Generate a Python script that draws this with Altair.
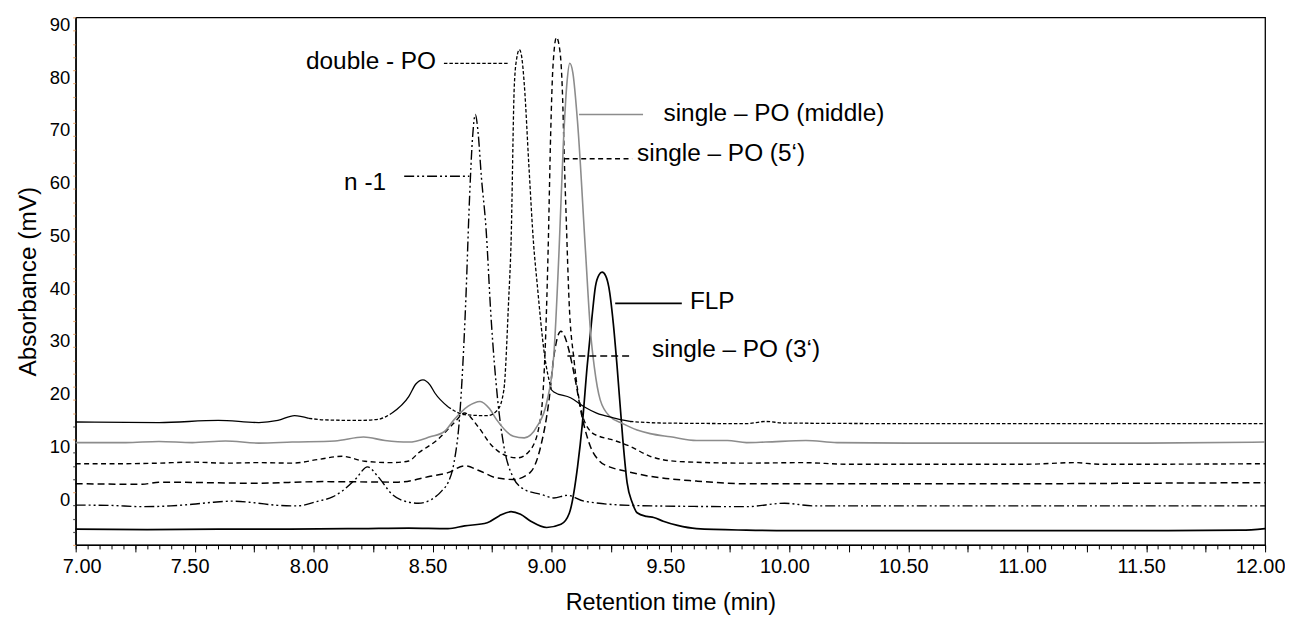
import altair as alt
import pandas as pd

# ---------------- data ----------------
flp_x = [7.00, 7.30, 7.60, 7.90, 8.20, 8.40, 8.565, 8.635, 8.73, 8.78, 8.83, 8.87, 8.913, 8.98, 9.04,
         9.075, 9.11, 9.13, 9.15, 9.17, 9.185, 9.20, 9.213, 9.228, 9.241, 9.26, 9.276, 9.30, 9.318,
         9.34, 9.36, 9.40, 9.43, 9.47, 9.53, 9.61, 9.82, 10.00, 10.50, 11.00, 11.50, 11.90, 12.00]
flp_y = [-7.0, -7.1, -7.0, -7.0, -6.9, -6.8, -6.9, -6.4, -5.8, -4.5, -3.7, -4.2, -5.5, -6.7, -6.1,
         -4.0, 4.9, 13.0, 23.8, 33.0, 39.0, 41.2, 41.7, 41.0, 38.9, 32.0, 23.8, 10.0, 1.8,
         -2.0, -3.9, -4.6, -4.8, -5.5, -6.3, -6.9, -7.2, -7.3, -7.3, -7.3, -7.3, -7.2, -6.9]

n1_x = [7.00, 7.14, 7.28, 7.40, 7.49, 7.58, 7.66, 7.75, 7.85, 7.93, 8.02, 8.08, 8.12, 8.175, 8.227,
        8.27, 8.33, 8.40, 8.44, 8.495, 8.54, 8.565, 8.59, 8.614, 8.64, 8.655, 8.668, 8.68, 8.692,
        8.705, 8.725, 8.746, 8.774, 8.80, 8.837, 8.886, 8.955, 9.01, 9.067, 9.137, 9.33, 9.60, 9.82,
        9.98, 10.10, 10.50, 11.00, 11.50, 12.00]
n1_y = [-2.45, -2.5, -2.75, -2.6, -2.3, -1.9, -1.7, -2.0, -2.5, -2.6, -1.7, -0.9, 0.2, 2.4, 4.8,
        3.0, -0.4, -1.9, -2.1, -1.4, 0.3, 1.8, 5.5, 14.3, 36.4, 55.0, 67.0, 71.6, 68.0,
        60.0, 50.0, 33.2, 17.5, 8.7, 3.0, 0.5, -0.4, -1.1, -0.6, -1.7, -2.5, -2.7, -2.75,
        -2.1, -2.6, -2.6, -2.6, -2.6, -2.6]

p3_x = [7.00, 7.28, 7.35, 7.75, 8.04, 8.356, 8.49, 8.565, 8.635, 8.70, 8.77, 8.84, 8.91, 8.955,
        8.99, 9.01, 9.025, 9.04, 9.053, 9.067, 9.095, 9.13, 9.165, 9.20, 9.25, 9.30, 9.415, 9.61,
        9.82, 10.50, 11.00, 11.50, 12.00]
p3_y = [1.6, 1.5, 1.9, 1.7, 2.0, 1.9, 3.0, 3.7, 5.0, 4.0, 2.7, 2.4, 3.7, 8.7,
        17.5, 25.7, 29.3, 30.5, 29.8, 28.0, 22.5, 14.0, 8.5, 6.0, 4.7, 4.1, 3.0, 2.1,
        1.6, 1.6, 1.6, 1.7, 1.8]

p5_x = [7.00, 7.21, 7.35, 7.49, 7.63, 7.77, 7.91, 8.02, 8.12, 8.216, 8.33, 8.40, 8.44, 8.52, 8.59,
        8.635, 8.69, 8.746, 8.816, 8.858, 8.913, 8.955, 8.976, 8.986, 8.997, 9.006, 9.021, 9.036,
        9.046, 9.054, 9.062, 9.074, 9.095, 9.123, 9.165, 9.20, 9.25, 9.33, 9.415, 9.54, 9.82,
        10.05, 10.25, 10.50, 11.00, 11.20, 11.30, 11.50, 12.00]
p5_y = [5.4, 5.4, 5.5, 5.7, 5.5, 5.6, 5.5, 6.2, 6.8, 5.85, 5.6, 5.9, 7.4, 9.9, 13.1,
        15.0, 12.5, 9.0, 6.8, 6.5, 8.1, 14.3, 30.1, 45.8, 68.4, 80.4, 86.2, 83.5,
        76.0, 63.2, 52.0, 36.3, 25.0, 16.0, 11.5, 10.6, 10.0, 8.7, 6.8, 5.8, 5.5,
        5.6, 5.3, 5.3, 5.3, 5.6, 5.3, 5.3, 5.4]

dpo_x = [7.00, 7.35, 7.60, 7.77, 7.85, 7.92, 7.98, 8.05, 8.19, 8.27, 8.33, 8.40, 8.43, 8.46, 8.49,
         8.51, 8.565, 8.635, 8.73, 8.774, 8.80, 8.82, 8.83, 8.844, 8.855, 8.865, 8.875, 8.886,
         8.905, 8.925, 8.94, 8.97, 9.00, 9.01, 9.08, 9.137, 9.19, 9.26, 9.33, 9.47, 9.82, 9.90,
         9.98, 10.50, 11.00, 11.50, 12.00]
dpo_y = [13.3, 13.2, 13.6, 13.2, 13.6, 14.5, 14.0, 13.7, 13.6, 13.8, 15.0, 18.1, 20.5, 21.3, 20.3,
         18.8, 16.2, 14.7, 14.5, 15.6, 19.4, 36.3, 47.0, 77.2, 82.5, 83.9, 82.5, 77.2,
         62.0, 47.0, 39.5, 26.3, 19.4, 19.0, 17.9, 16.2, 15.0, 14.1, 13.4, 13.1, 13.0, 13.4,
         13.1, 13.0, 13.0, 13.0, 13.0]
# stretches of the top trace that the reference prints as a solid line
dpo_solid_ranges = [(7.00, 7.98), (8.33, 8.565), (9.00, 9.33)]

mid_x = [7.00, 7.21, 7.35, 7.49, 7.63, 7.77, 7.91, 8.09, 8.21, 8.30, 8.40, 8.49, 8.55, 8.59, 8.65,
         8.70, 8.74, 8.77, 8.84, 8.886, 8.94, 8.98, 9.01, 9.032, 9.05, 9.065, 9.077, 9.09, 9.11,
         9.143, 9.165, 9.18, 9.205, 9.247, 9.30, 9.36, 9.415, 9.50, 9.61, 9.74, 9.82, 9.90, 10.07,
         10.20, 10.50, 11.00, 11.50, 12.00]
mid_y = [9.4, 9.4, 9.6, 9.4, 9.7, 9.3, 9.5, 9.7, 10.45, 9.8, 9.5, 10.5, 11.5, 13.7, 16.3,
         17.2, 15.8, 13.7, 10.6, 10.3, 12.5, 17.0, 26.0, 45.8, 66.0, 77.5, 81.3, 79.5, 70.0,
         45.8, 30.0, 23.8, 17.5, 14.3, 13.0, 11.8, 11.1, 10.5, 9.8, 9.8, 9.4, 9.5, 9.8,
         9.4, 9.3, 9.3, 9.3, 9.5]

# annotation labels and their leader lines
ann_text = ["double - PO", "single \u2013 PO (middle)", "single \u2013 PO (5\u2018)", "n -1", "FLP",
            "single \u2013 PO (3\u2018)"]
ann_x = [8.515, 9.471, 9.36, 8.305, 9.582, 9.423]
ann_y = [81.6, 71.6, 64.1, 58.6, 36.0, 26.9]
ann_align = ["right", "left", "left", "right", "left", "left"]
lead_x1 = [8.548, 9.116, 9.054, 8.381, 9.268, 9.067]
lead_x2 = [8.820, 9.385, 9.339, 8.655, 9.548, 9.343]
lead_y = [81.3, 71.6, 63.2, 59.9, 35.8, 25.8]

# tick values / labels
x_major_ticks = [round(7 + 0.25 * i, 2) for i in range(21)]
x_minor_ticks = [round(7 + 0.05 * i, 2) for i in range(101)]
y_ticks = [-10 + 2.5 * i for i in range(41)]

FONT = "Liberation Sans"
XS = alt.Scale(domain=[7, 12], nice=False, zero=False)
YS = alt.Scale(domain=[-10, 90], nice=False, zero=False)

x_major_axis = alt.Axis(
    values=x_major_ticks, orient="bottom", grid=False,
    labelExpr="abs(datum.value*2 - round(datum.value*2)) < 0.001 ? format(datum.value, '.2f') : ''",
    labelOverlap=False, labelFlush=False, labelFont=FONT, labelFontSize=20, labelColor="black",
    labelOffset={"condition": {"test": "datum.value < 7.01", "value": 6}, "value": -5},
    labelPadding=5, tickSize=7, tickColor="black", tickWidth=1,
    domainColor="black", domainWidth=1.3,
    title="Retention time (min)", titleFont=FONT, titleFontSize=23.5, titleFontWeight="normal",
    titleColor="black", titlePadding=14)
x_minor_axis = alt.Axis(values=x_minor_ticks, orient="bottom", grid=False, labels=False,
                        domain=False, tickSize=4, tickColor="black", tickWidth=1, title=None)
y_axis = alt.Axis(
    values=y_ticks, orient="left", grid=False,
    labelExpr="datum.value >= 0 && abs(datum.value/10 - round(datum.value/10)) < 0.001 ? format(datum.value, 'd') : ''",
    labelOverlap=False, labelFlush=False, labelFont=FONT, labelFontSize=18.5, labelColor="black",
    labelBaseline="middle", labelOffset=7, labelPadding=3, tickSize=3,
    tickColor={"condition": {"test": "datum.value < 15 && abs(datum.value/10 - round(datum.value/10)) > 0.001",
                             "value": "#555555"}, "value": "#f3b27a"},
    tickWidth=1.2, domainColor="black", domainWidth=1.3,
    title="Absorbance (mV)", titleFont=FONT, titleFontSize=24.5, titleFontWeight="normal",
    titleColor="black", titlePadding=9)


def line_layer(xs, ys, color, dash, width, xaxis=None, yaxis=None):
    df = pd.DataFrame({"t": xs, "v": ys})
    kw = dict(interpolate="monotone", color=color, strokeWidth=width)
    if dash:
        kw["strokeDash"] = dash
    return alt.Chart(df).mark_line(**kw).encode(
        x=alt.X("t:Q", scale=XS, axis=xaxis),
        y=alt.Y("v:Q", scale=YS, axis=yaxis),
    )


def split_runs(xs, ys, solid_ranges):
    """Split a trace into consecutive runs, flagged solid / dotted."""
    def is_solid(a, b):
        m = (a + b) / 2
        return any(lo <= m <= hi for lo, hi in solid_ranges)
    runs = []
    cur = [(xs[0], ys[0])]
    cur_flag = is_solid(xs[0], xs[1])
    for i in range(1, len(xs)):
        flag = is_solid(xs[i - 1], xs[i])
        if flag != cur_flag:
            runs.append((cur_flag, cur))
            cur = [(xs[i - 1], ys[i - 1])]
            cur_flag = flag
        cur.append((xs[i], ys[i]))
    runs.append((cur_flag, cur))
    return runs


styles = {
    "double - PO": ("black", [3.5, 2], 1.3),
    "middle": ("#8c8c8c", None, 1.6),
    "5": ("black", [5, 3.5], 1.4),
    "n-1": ("black", [10, 3, 2, 3, 2, 3], 1.4),
    "FLP": ("black", None, 1.7),
    "3": ("black", [7, 4], 1.5),
}

layers = [
    line_layer(flp_x, flp_y, *styles["FLP"], xaxis=x_major_axis, yaxis=y_axis),
    line_layer(n1_x, n1_y, *styles["n-1"], xaxis=x_minor_axis),
    line_layer(p3_x, p3_y, *styles["3"]),
    line_layer(p5_x, p5_y, *styles["5"]),
    line_layer(mid_x, mid_y, *styles["middle"]),
]
for solid, pts in split_runs(dpo_x, dpo_y, dpo_solid_ranges):
    xs = [p[0] for p in pts]
    ys = [p[1] for p in pts]
    if solid:
        layers.append(line_layer(xs, ys, "black", None, 1.3))
    else:
        layers.append(line_layer(xs, ys, *styles["double - PO"]))

lead_styles = [styles["double - PO"], styles["middle"], styles["5"], styles["n-1"], styles["FLP"], styles["3"]]
for i in range(len(lead_y)):
    color, dash, width = lead_styles[i]
    df = pd.DataFrame({"x1": [lead_x1[i]], "x2": [lead_x2[i]], "y": [lead_y[i]]})
    kw = dict(color=color, strokeWidth=width)
    if dash:
        kw["strokeDash"] = dash
    layers.append(alt.Chart(df).mark_rule(**kw).encode(
        x=alt.X("x1:Q", scale=XS, axis=None), x2="x2:Q",
        y=alt.Y("y:Q", scale=YS, axis=None)))

ann_df = pd.DataFrame({"text": ann_text, "x": ann_x, "y": ann_y, "align": ann_align})
for al in ["left", "right"]:
    layers.append(alt.Chart(ann_df[ann_df["align"] == al]).mark_text(
        align=al, baseline="middle", font=FONT, fontSize=24.5, color="black").encode(
        x=alt.X("x:Q", scale=XS, axis=None),
        y=alt.Y("y:Q", scale=YS, axis=None),
        text="text:N"))

chart = alt.layer(*layers).resolve_axis(x="independent", y="independent").properties(
    width=1195, height=530,
    padding={"left": 68, "top": 8, "right": 20, "bottom": 76},
    autosize=alt.AutoSizeParams(type="none"),
    background="white",
).configure_view(stroke="black", strokeWidth=1.3)

chart.save("out.html", embed_options={"renderer": "svg", "actions": False})
